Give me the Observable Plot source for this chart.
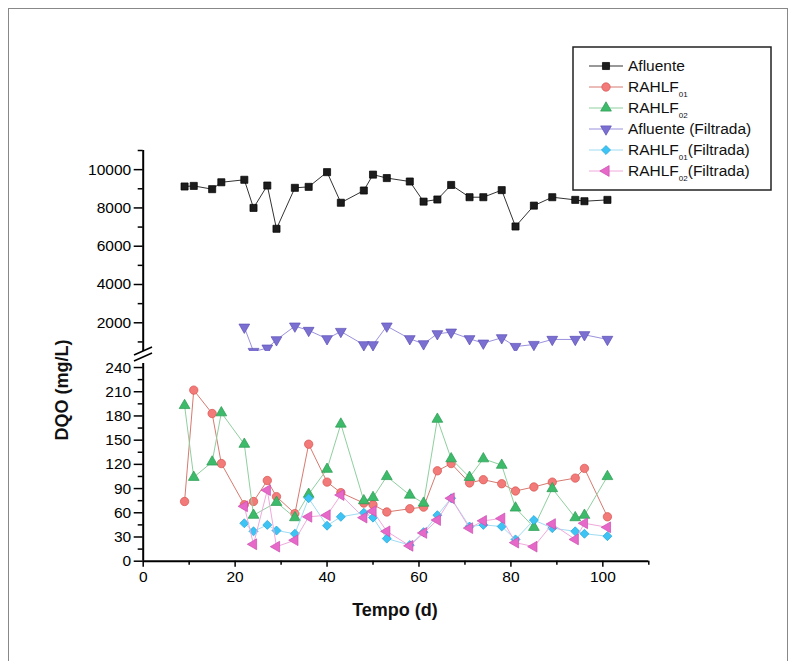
<!DOCTYPE html>
<html><head><meta charset="utf-8">
<script src="https://cdn.jsdelivr.net/npm/d3@7"></script>
<script src="https://cdn.jsdelivr.net/npm/@observablehq/plot@0.6"></script>
<style>
body{margin:0;background:#fff;}
#wrap{position:relative;width:796px;height:661px;overflow:hidden;font-family:"Liberation Sans",Arial,sans-serif;background:#fff;}
#wrap > svg{position:absolute;left:0;top:0;}
.lbl{position:absolute;font-weight:bold;font-size:18px;color:#111;white-space:nowrap;}
</style></head><body><div id="wrap"></div>
<script>
// ---- data ----
const daysAfluente = [9,11,15,17,22,24,27,29,33,36,40,43,48,50,53,58,61,64,67,71,74,78,81,85,89,94,96,101];
const afluente = [9120,9150,8980,9340,9470,8000,9170,6910,9050,9100,9870,8270,8910,9740,9560,9380,8330,8440,9200,8560,8560,8930,7030,8120,8560,8420,8350,8420];

const daysAfluenteF = [22,24,27,29,33,36,40,43,48,50,53,58,61,64,67,71,74,78,81,85,89,94,96,101];
const afluenteF = [1770,500,675,1110,1825,1600,1165,1545,850,850,1825,1165,900,1425,1510,1165,935,1215,760,865,1130,1130,1375,1130];

const daysR01 = [9,11,15,17,22,24,27,29,33,36,40,43,48,50,53,58,61,64,67,71,74,78,81,85,89,94,96,101];
const rahlf01 = [74,212,183,121,70,74,100,80,59,145,98,85,72,70,61,65,67,112,121,97,101,96,87,92,98,103,115,55];

const daysR02 = [9,11,15,17,22,24,29,33,36,40,43,48,50,53,58,61,64,67,71,74,78,81,85,89,94,96,101];
const rahlf02 = [193,104,123,184,145,57,73,54,83,114,170,75,79,105,82,72,176,127,104,127,119,66,42,90,54,57,105];

const daysF = [22,24,27,29,33,36,40,43,48,50,53,58,61,64,67,71,74,78,81,85,89,94,96,101];
const rahlf01F = [47,37,45,38,34,78,44,55,60,54,28,20,36,57,78,43,45,43,27,51,41,37,34,31];
const rahlf02F = [68,21,88,18,26,55,57,82,54,62,37,19,35,51,78,41,50,53,23,18,46,27,47,42];

const xMajor = [0,20,40,60,80,100];
const xMinor = [10,30,50,70,90,110];
const yUpperMajor = [2000,4000,6000,8000,10000];
const yUpperMinor = [1000,3000,5000,7000,9000,11000];
const yLowerMajor = [0,30,60,90,120,150,180,210,240];
const yLowerMinor = [15,45,75,105,135,165,195,225];

const seriesNames = ["Afluente","RAHLF01","RAHLF02","Afluente (Filtrada)","RAHLF01(Filtrada)","RAHLF02(Filtrada)"];

// ---- build tables ----
const rows = (days, vals) => days.map((d, i) => ({day: d, v: vals[i]}));
const tAfl = rows(daysAfluente, afluente);
const tAflF = rows(daysAfluenteF, afluenteF);
const tR01 = rows(daysR01, rahlf01);
const tR02 = rows(daysR02, rahlf02);
const tR01F = rows(daysF, rahlf01F);
const tR02F = rows(daysF, rahlf02F);

const sty = {
  afl:  {fill:"#1c1c1c", stroke:"#000", line:"#333", symbol:"square", rotate:0, r:4},
  r01:  {fill:"#f27a78", stroke:"#d9534f", line:"#d77a70", symbol:"circle", rotate:0, r:4.2},
  r02:  {fill:"#3dbb6b", stroke:"#2a9a52", line:"#8fcf9f", symbol:"triangle", rotate:0, r:4},
  aflF: {fill:"#7b70d2", stroke:"#5b50b5", line:"#9a92dc", symbol:"triangle", rotate:180, r:4},
  r01F: {fill:"#3ec4f4", stroke:"#22a6d8", line:"#9fdcf3", symbol:"square", rotate:45, r:3.6},
  r02F: {fill:"#e669c9", stroke:"#cc4db0", line:"#f0a9dc", symbol:"triangle", rotate:-90, r:4}
};
const W = 796, H = 661;
const mL = 142.7, mR = W - 648.3;
const font = {fontFamily:"'Liberation Sans',Arial,sans-serif", fontSize:"15px", background:"transparent", overflow:"visible"};
const fmt = d3.format("d");

function series(t, s, clip=false) {
  return [
    Plot.line(t, {x:"day", y:"v", stroke:s.line, strokeWidth:1, clip}),
    Plot.dot(t, {x:"day", y:"v", symbol:s.symbol, rotate:s.rotate, r:s.r, fill:s.fill, stroke:s.stroke, strokeWidth:0.7, clip})
  ];
}

const upper = Plot.plot({
  width: W, height: H,
  marginLeft: mL, marginRight: mR, marginTop: 150, marginBottom: H - 351,
  style: font,
  x: {domain:[0,110], axis:null},
  y: {domain:[500,11000], axis:null},
  marks: [
    Plot.axisY(yUpperMajor, {anchor:"left", tickSize:9, tickPadding:3, strokeWidth:1.5, label:null, fontSize:15.5, tickFormat:fmt}),
    Plot.axisY(yUpperMinor, {anchor:"left", tickSize:5, strokeWidth:1.5, label:null, tickFormat:() => ""}),
    Plot.ruleX([0], {strokeWidth:2}),
    ...series(tAfl, sty.afl),
    ...series(tAflF, sty.aflF, true)
  ]
});

const lower = Plot.plot({
  width: W, height: H,
  marginLeft: mL, marginRight: mR, marginTop: 363, marginBottom: H - 560.7,
  style: font,
  x: {domain:[0,110], axis:null},
  y: {domain:[0,245], axis:null},
  marks: [
    Plot.axisY(yLowerMajor, {anchor:"left", tickSize:9, tickPadding:3, strokeWidth:1.5, label:null, fontSize:15.5, tickFormat:fmt}),
    Plot.axisY(yLowerMinor, {anchor:"left", tickSize:5, strokeWidth:1.5, label:null, tickFormat:() => ""}),
    Plot.axisX(xMajor, {anchor:"bottom", tickSize:6, tickPadding:4, strokeWidth:1.5, label:null, fontSize:15.5, tickFormat:fmt}),
    Plot.axisX(xMinor, {anchor:"bottom", tickSize:4, strokeWidth:1.5, label:null, tickFormat:() => ""}),
    Plot.ruleX([0], {strokeWidth:2}),
    Plot.ruleY([0], {strokeWidth:2}),
    ...series(tR01, sty.r01),
    ...series(tR02, sty.r02),
    ...series(tR01F, sty.r01F),
    ...series(tR02F, sty.r02F)
  ]
});

const wrap = document.getElementById("wrap");
// outer frame
const frame = document.createElement("div");
frame.style.cssText = "position:absolute;left:8px;top:8px;width:778px;height:700px;border:1px solid #888;";
wrap.appendChild(frame);
wrap.appendChild(upper);
wrap.appendChild(lower);

// decorations: axis break marks + legend
const deco = d3.create("svg").attr("width", W).attr("height", H)
  .style("position","absolute").style("left","0").style("top","0")
  .style("font-family","'Liberation Sans',Arial,sans-serif");
deco.append("rect").attr("x",136).attr("y",351).attr("width",12).attr("height",11).attr("fill","#fff");
[0, 6].forEach(o => {
  deco.append("line").attr("x1",134).attr("y1",355+o).attr("x2",152).attr("y2",347+o)
    .attr("stroke","#000").attr("stroke-width",1.5);
});

// legend
const lx = 573, ly = 47;
const lg = deco.append("g");
lg.append("rect").attr("x",lx).attr("y",ly).attr("width",198).attr("height",143)
  .attr("fill","#fff").attr("stroke","#222").attr("stroke-width",1.5);
const keys = ["afl","r01","r02","aflF","r01F","r02F"];
const symMap = {square:d3.symbolSquare, circle:d3.symbolCircle, triangle:d3.symbolTriangle};
keys.forEach((k, i) => {
  const s = sty[k];
  const cy = ly + 19 + i * 21;
  lg.append("line").attr("x1",589).attr("x2",623).attr("y1",cy).attr("y2",cy)
    .attr("stroke", s.line).attr("stroke-width",1);
  lg.append("path").attr("d", d3.symbol(symMap[s.symbol], Math.PI * s.r * s.r)())
    .attr("transform", `translate(606,${cy}) rotate(${s.rotate})`)
    .attr("fill", s.fill).attr("stroke", s.stroke).attr("stroke-width",0.7);
  const name = seriesNames[i];
  const t = lg.append("text").attr("x",628).attr("y",cy + 5).attr("font-size",15.5).attr("fill","#111");
  const m = name.match(/^RAHLF(\d\d)(.*)$/);
  if (m) {
    t.append("tspan").text("RAHLF");
    t.append("tspan").attr("font-size",8).attr("dy",5).text(m[1]);
    t.append("tspan").attr("dy",-5).text(m[2]);
  } else {
    t.text(name);
  }
});
wrap.appendChild(deco.node());

// axis titles
const xl = document.createElement("div");
xl.className = "lbl"; xl.textContent = "Tempo (d)";
xl.style.cssText += "left:395px;top:610px;transform:translate(-50%,-50%);";
wrap.appendChild(xl);
const yl = document.createElement("div");
yl.className = "lbl"; yl.textContent = "DQO (mg/L)";
yl.style.cssText += "left:62px;top:390px;transform:translate(-50%,-50%) rotate(-90deg);";
wrap.appendChild(yl);
</script></body></html>
